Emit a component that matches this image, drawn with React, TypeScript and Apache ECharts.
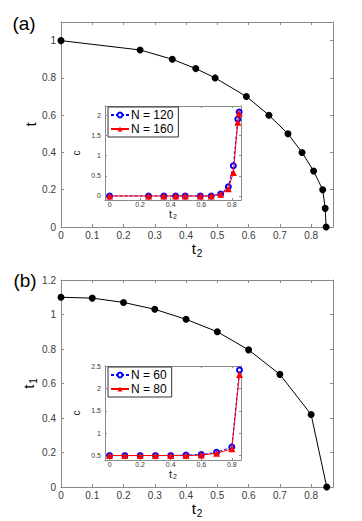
import React, { useEffect, useRef } from "react";
import * as echarts from "echarts";

// ---- data ----
const mainAX = [0, 0.253, 0.356, 0.431, 0.493, 0.593, 0.665, 0.726, 0.771, 0.808, 0.837, 0.845, 0.848];
const mainAY = [1, 0.95, 0.9, 0.85, 0.8, 0.7, 0.6, 0.5, 0.4, 0.3, 0.2, 0.1, 0];

const insetAX = [0, 0.255, 0.355, 0.432, 0.495, 0.594, 0.665, 0.727, 0.777, 0.81, 0.839, 0.848];
const insetAN120 = [0, 0, 0, 0, 0, 0, 0, 0.05, 0.23, 0.75, 1.9, 2.08];
const insetAN160 = [0, 0, 0, 0, 0, 0, 0, 0.04, 0.18, 0.58, 1.83, 2.05];

const mainBX = [0, 0.1, 0.2, 0.3, 0.4, 0.5, 0.6, 0.7, 0.8, 0.85];
const mainBY = [1.1, 1.095, 1.07, 1.03, 0.972, 0.9, 0.795, 0.653, 0.42, 0];

const insetBX = [0, 0.1, 0.2, 0.3, 0.4, 0.5, 0.6, 0.7, 0.8, 0.85];
const insetBN60 = [0.5, 0.5, 0.5, 0.5, 0.5, 0.51, 0.52, 0.57, 0.69, 2.41];
const insetBN80 = [0.5, 0.5, 0.5, 0.5, 0.5, 0.5, 0.51, 0.55, 0.65, 2.31];

// ---- tick labels ----
const mainXTicks = [0, 0.1, 0.2, 0.3, 0.4, 0.5, 0.6, 0.7, 0.8];
const mainAYTicks = [0, 0.2, 0.4, 0.6, 0.8, 1];
const mainBYTicks = [0, 0.2, 0.4, 0.6, 0.8, 1, 1.2];
const insetXTicks = [0, 0.2, 0.4, 0.6, 0.8];
const insetAYTicks = [0, 0.5, 1, 1.5, 2];
const insetBYTicks = [0.5, 1, 1.5, 2, 2.5];

const AXIS = "#8a8a8a";
const LABEL = "#3a3a3a";
const FONT = "Liberation Sans, Arial, sans-serif";

type NameOpt = { name: string; gap: number; size: number; sub: number; subPad: number; color: string };

function pair(kind: "x" | "y", gridIndex: number, min: number, max: number, ticks: number[], fontSize: number, tickLen: number, margin: number, z: number, nm: NameOpt) {
  const base = {
    type: "value",
    gridIndex,
    min,
    max,
    z,
    splitLine: { show: false },
    axisLine: { show: true, onZero: false, lineStyle: { color: AXIS, width: 1 } },
  };
  const main = {
    ...base,
    position: kind === "x" ? "bottom" : "left",
    name: nm.name,
    nameLocation: "middle",
    nameGap: nm.gap,
    nameRotate: kind === "y" ? 90 : 0,
    nameMoveOverlap: false,
    nameTextStyle: {
      fontFamily: FONT,
      fontSize: nm.size,
      color: nm.color,
      rich: {
        t: { fontFamily: FONT, fontSize: nm.size, color: nm.color },
        s: { fontFamily: FONT, fontSize: nm.sub, color: nm.color, padding: [nm.subPad, 0, 0, 1] },
      },
    },
    axisTick: { show: true, inside: true, length: tickLen, customValues: ticks, lineStyle: { color: AXIS } },
    axisLabel: {
      show: true,
      customValues: ticks,
      hideOverlap: false,
      fontSize,
      fontFamily: FONT,
      color: LABEL,
      margin,
      formatter: (v: number) => String(+v.toFixed(2)),
    },
  };
  const other = {
    ...base,
    position: kind === "x" ? "top" : "right",
    axisTick: { show: true, inside: true, length: tickLen, customValues: ticks, lineStyle: { color: AXIS } },
    axisLabel: { show: false },
  };
  return [main, other];
}

function zip(xs: number[], ys: number[]) {
  return xs.map((x, i) => [x, ys[i]]);
}

function txt(x: number, y: number, text: string, fontSize: number) {
  return {
    type: "text",
    x,
    y,
    z: 100,
    style: { text, fontSize, fontFamily: FONT, fill: "#000", align: "center", verticalAlign: "middle" },
  };
}

export default function App() {
  const ref = useRef<HTMLDivElement>(null);
  useEffect(() => {
    if (!ref.current) return;
    const chart = echarts.init(ref.current, undefined, { renderer: "svg" });

    const mainXName = { name: "{t|t}{s|2}", gap: 12, size: 15, sub: 10, subPad: 9, color: "#000" };
    const insetXName = { name: "{t|t}{s|2}", gap: 7, size: 11, sub: 7, subPad: 6, color: "#222" };
    const cName = { name: "c", gap: 24, size: 10, sub: 7, subPad: 0, color: "#222" };

    const xAxis = [
      ...pair("x", 0, 0, 0.87, mainXTicks, 10, 3, 3, 0, mainXName),
      ...pair("x", 1, -0.03, 0.86, insetXTicks, 7, 2, 1, 8, insetXName),
      ...pair("x", 2, 0, 0.87, mainXTicks, 10, 3, 3, 0, mainXName),
      ...pair("x", 3, -0.03, 0.86, insetXTicks, 7, 2, 1, 8, insetXName),
    ];
    const yAxis = [
      ...pair("y", 0, 0, 1.1, mainAYTicks, 10, 3, 5, 0, { name: "{t|t}", gap: 23, size: 15, sub: 10, subPad: 0, color: "#000" }),
      ...pair("y", 1, -0.1, 2.23, insetAYTicks, 7, 2, 4, 8, cName),
      ...pair("y", 2, 0, 1.2, mainBYTicks, 10, 3, 5, 0, { name: "{t|t}{s|1}", gap: 23, size: 15, sub: 10, subPad: 9, color: "#000" }),
      ...pair("y", 3, 0.4, 2.5, insetBYTicks, 7, 2, 4, 8, cName),
    ];

    const mainSeries = (name: string, xi: number, data: number[][]) => ({
      type: "line",
      name,
      xAxisIndex: xi,
      yAxisIndex: xi,
      data,
      symbol: "circle",
      symbolSize: 7,
      lineStyle: { color: "#000", width: 1 },
      itemStyle: { color: "#000" },
      z: 3,
    });
    const blue = (name: string, xi: number, data: number[][]) => ({
      type: "line",
      name,
      xAxisIndex: xi,
      yAxisIndex: xi,
      data,
      symbol: "emptyCircle",
      symbolSize: 5,
      lineStyle: { color: "#0000ff", width: 1, type: [3, 2] },
      itemStyle: { color: "#0000ff", borderColor: "#0000ff", borderWidth: 0.8 },
      z: 10,
    });
    const red = (name: string, xi: number, data: number[][]) => ({
      type: "line",
      name,
      xAxisIndex: xi,
      yAxisIndex: xi,
      data,
      symbol: "triangle",
      symbolSize: 7,
      lineStyle: { color: "#ff0000", width: 1 },
      itemStyle: { color: "#ff0000" },
      z: 11,
    });

    const legendBase = {
      orient: "vertical",
      backgroundColor: "#fff",
      borderColor: "#333",
      borderWidth: 1,
      padding: [2, 5, 2, 2],
      itemWidth: 18,
      itemHeight: 6,
      itemGap: 2,
      textStyle: { fontSize: 12, fontFamily: FONT, color: "#000", lineHeight: 11, padding: [0, 0, 0, -3] },
      selectedMode: false,
      z: 20,
    };

    chart.setOption({
      animation: false,
      backgroundColor: "#fff",
      grid: [
        { left: 61, top: 22, width: 272, height: 205 },
        { left: 105, top: 106, width: 136, height: 94, show: true, backgroundColor: "#fff", borderWidth: 0, z: 5 },
        { left: 61, top: 280, width: 272, height: 207 },
        { left: 105, top: 366, width: 136, height: 94, show: true, backgroundColor: "#fff", borderWidth: 0, z: 5 },
      ],
      xAxis,
      yAxis,
      legend: [
        { ...legendBase, left: 108, top: 107, data: ["N = 120", "N = 160"] },
        { ...legendBase, left: 108, top: 367, data: ["N = 60", "N = 80"] },
      ],
      series: [
        mainSeries("mainA", 0, zip(mainAX, mainAY)),
        blue("N = 120", 2, zip(insetAX, insetAN120)),
        red("N = 160", 2, zip(insetAX, insetAN160)),
        mainSeries("mainB", 4, zip(mainBX, mainBY)),
        blue("N = 60", 6, zip(insetBX, insetBN60)),
        red("N = 80", 6, zip(insetBX, insetBN80)),
      ],
      graphic: [txt(24, 23, "(a)", 19), txt(25, 280, "(b)", 19)],
    } as any);
    return () => chart.dispose();
  }, []);
  return <div ref={ref} style={{ position: "absolute", left: 0, top: 0, width: 362, height: 521 }} />;
}
